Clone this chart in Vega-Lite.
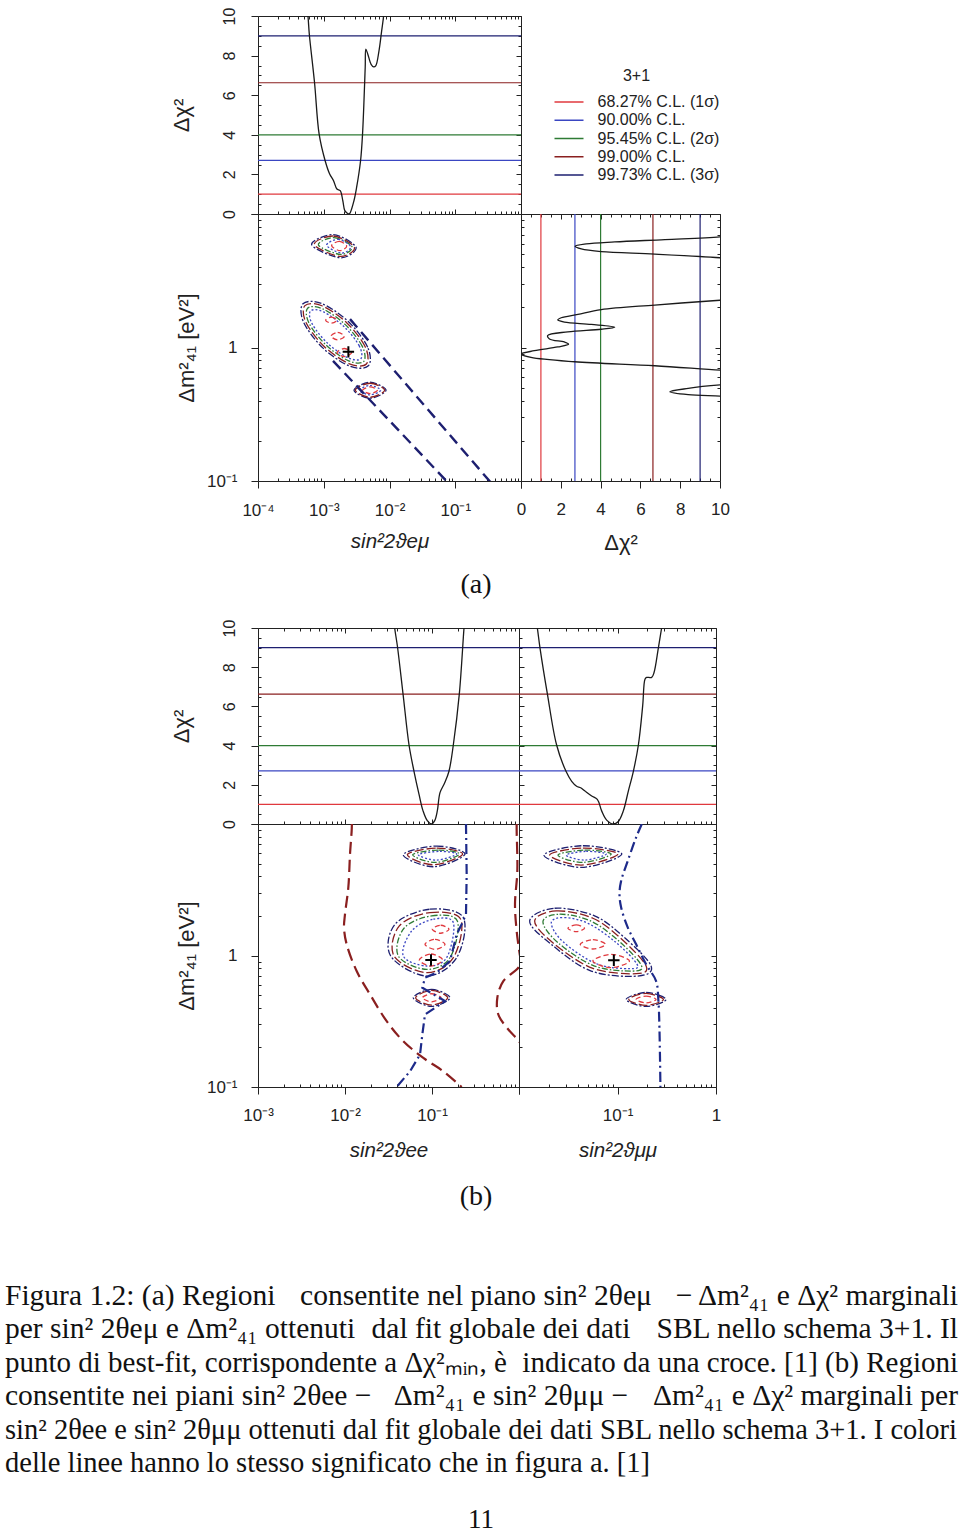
{
"$schema": "https://vega.github.io/schema/vega-lite/v6.json",
"background": "white",
"padding": {"left": 5, "top": 6, "right": 2, "bottom": 0},
"config": {
  "view": {"stroke": "#222", "strokeWidth": 1},
  "axis": {"grid": false, "domain": false, "labelFont": "Liberation Sans", "labelFontSize": 16, "labelColor": "#222", "titleFont": "Liberation Sans", "titleFontSize": 19, "titleFontWeight": "normal", "titleColor": "#222", "tickColor": "#222", "tickWidth": 1, "labelOverlap": false, "labelFlush": false},
  "legend": {"labelFont": "Liberation Sans", "titleFont": "Liberation Sans"},
  "text": {"font": "Liberation Serif", "color": "#111"}
},
"datasets": {
  "cl": [{"cl":"68.27","chi":1.0},{"cl":"90.00","chi":2.71},{"cl":"95.45","chi":4.0},{"cl":"99.00","chi":6.63},{"cl":"99.73","chi":9.0}],
  "chiA": [{"s":0.000525,"chi":11},{"s":0.000575,"chi":10},{"s":0.000603,"chi":9.08},{"s":0.000724,"chi":6.64},{"s":0.000851,"chi":4.03},{"s":0.00105,"chi":2.69},{"s":0.00123,"chi":2.02},{"s":0.00141,"chi":1.68},{"s":0.001585,"chi":1.26},{"s":0.00178,"chi":1.18},{"s":0.00195,"chi":0.67},{"s":0.00209,"chi":0.17},{"s":0.00229,"chi":0.04},{"s":0.0024,"chi":0},{"s":0.00251,"chi":0.05},{"s":0.00288,"chi":0.67},{"s":0.00316,"chi":1.34},{"s":0.00363,"chi":2.69},{"s":0.00389,"chi":4.03},{"s":0.00427,"chi":7.39},{"s":0.00437,"chi":8.32},{"s":0.00468,"chi":8.07},{"s":0.00525,"chi":7.56},{"s":0.00575,"chi":7.43},{"s":0.00617,"chi":7.48},{"s":0.00692,"chi":8.24},{"s":0.00759,"chi":9.24},{"s":0.00813,"chi":10},{"s":0.00851,"chi":11}],
  "chiEE": [{"s":0.036,"chi":10.76},{"s":0.03724,"chi":10},{"s":0.04,"chi":9.08},{"s":0.04645,"chi":6.64},{"s":0.05445,"chi":4.03},{"s":0.06209,"chi":2.69},{"s":0.07096,"chi":1.51},{"s":0.07889,"chi":0.67},{"s":0.08831,"chi":0.17},{"s":0.09908,"chi":0},{"s":0.1074,"chi":0.17},{"s":0.1151,"chi":0.67},{"s":0.1236,"chi":1.6},{"s":0.14,"chi":2.1},{"s":0.1567,"chi":2.69},{"s":0.1758,"chi":4.03},{"s":0.2061,"chi":6.64},{"s":0.2333,"chi":10},{"s":0.2415,"chi":10.76}],
  "chiMM": [{"s":0.01452,"chi":10.76},{"s":0.01535,"chi":10},{"s":0.01633,"chi":8.99},{"s":0.01941,"chi":6.64},{"s":0.0241,"chi":4.03},{"s":0.03,"chi":2.69},{"s":0.03428,"chi":2.18},{"s":0.03846,"chi":1.93},{"s":0.04227,"chi":1.85},{"s":0.04677,"chi":1.68},{"s":0.0547,"chi":1.43},{"s":0.06237,"chi":1.26},{"s":0.06902,"chi":0.67},{"s":0.07762,"chi":0.2},{"s":0.09078,"chi":0},{"s":0.1019,"chi":0.13},{"s":0.1146,"chi":0.67},{"s":0.1288,"chi":1.68},{"s":0.1449,"chi":2.69},{"s":0.1629,"chi":4.03},{"s":0.1803,"chi":6.05},{"s":0.1901,"chi":7.39},{"s":0.1977,"chi":7.48},{"s":0.2223,"chi":7.48},{"s":0.235,"chi":7.73},{"s":0.26,"chi":8.99},{"s":0.2805,"chi":10},{"s":0.2965,"chi":10.76}],
  "margA": [{"chi":11.4,"m":7.14},{"chi":10,"m":6.74},{"chi":7.23,"m":6.43},{"chi":4.71,"m":6.18},{"chi":3.28,"m":5.97},{"chi":2.72,"m":5.73},{"chi":3.03,"m":5.47},{"chi":4.03,"m":5.22},{"chi":6.72,"m":5.01},{"chi":10,"m":4.7},{"chi":11.4,"m":4.49},{"chi":11.4,"m":2.34},{"chi":10,"m":2.26},{"chi":6.72,"m":2.08},{"chi":4.03,"m":1.92},{"chi":2.86,"m":1.77},{"chi":2.02,"m":1.67},{"chi":1.85,"m":1.61},{"chi":2.18,"m":1.55},{"chi":3.53,"m":1.49},{"chi":4.71,"m":1.42},{"chi":4.03,"m":1.37},{"chi":2.35,"m":1.31},{"chi":1.34,"m":1.23},{"chi":1.43,"m":1.16},{"chi":2.18,"m":1.1},{"chi":2.39,"m":1.06},{"chi":1.85,"m":1.01},{"chi":0.67,"m":0.946},{"chi":0,"m":0.893},{"chi":0.5,"m":0.843},{"chi":2.69,"m":0.782},{"chi":6.72,"m":0.73},{"chi":10,"m":0.676},{"chi":11.4,"m":0.661},{"chi":11.4,"m":0.538},{"chi":10,"m":0.524},{"chi":8.4,"m":0.494},{"chi":7.48,"m":0.466},{"chi":8.4,"m":0.443},{"chi":10,"m":0.433},{"chi":11.4,"m":0.422}],
  "contA": [
    {"c":"U5","cl":"99.73","i":0,"s":0.000655,"m":5.89},{"c":"U5","cl":"99.73","i":1,"s":0.0014,"m":7.0},{"c":"U5","cl":"99.73","i":2,"s":0.0031,"m":5.62},{"c":"U5","cl":"99.73","i":3,"s":0.00177,"m":4.7},
    {"c":"U4","cl":"99.00","i":0,"s":0.000719,"m":5.89},{"c":"U4","cl":"99.00","i":1,"s":0.0014,"m":6.84},{"c":"U4","cl":"99.00","i":2,"s":0.00292,"m":5.62},{"c":"U4","cl":"99.00","i":3,"s":0.00177,"m":4.81},
    {"c":"U3","cl":"95.45","i":0,"s":0.000828,"m":5.85},{"c":"U3","cl":"95.45","i":1,"s":0.00143,"m":6.65},{"c":"U3","cl":"95.45","i":2,"s":0.00269,"m":5.69},{"c":"U3","cl":"95.45","i":3,"s":0.00181,"m":4.98},
    {"c":"U2","cl":"90.00","i":0,"s":0.001107,"m":5.82},{"c":"U2","cl":"90.00","i":1,"s":0.001667,"m":6.46},{"c":"U2","cl":"90.00","i":2,"s":0.00256,"m":5.69},{"c":"U2","cl":"90.00","i":3,"s":0.001875,"m":5.1},
    {"c":"U1","cl":"68.27","i":0,"s":0.001318,"m":5.79},{"c":"U1","cl":"68.27","i":1,"s":0.001726,"m":6.24},{"c":"U1","cl":"68.27","i":2,"s":0.002234,"m":5.75},{"c":"U1","cl":"68.27","i":3,"s":0.00177,"m":5.31},
    {"c":"M5","cl":"99.73","i":0,"s":0.004764,"m":0.7291},{"c":"M5","cl":"99.73","i":1,"s":0.00466,"m":1.003},{"c":"M5","cl":"99.73","i":2,"s":0.00236,"m":1.566},{"c":"M5","cl":"99.73","i":3,"s":0.000924,"m":2.137},{"c":"M5","cl":"99.73","i":4,"s":0.0004835,"m":2.125},{"c":"M5","cl":"99.73","i":5,"s":0.0004943,"m":1.545},{"c":"M5","cl":"99.73","i":6,"s":0.0009763,"m":0.9892},{"c":"M5","cl":"99.73","i":7,"s":0.002493,"m":0.7249},
    {"c":"M4","cl":"99.00","i":0,"s":0.004453,"m":0.7525},{"c":"M4","cl":"99.00","i":1,"s":0.004289,"m":1.008},{"c":"M4","cl":"99.00","i":2,"s":0.00225,"m":1.528},{"c":"M4","cl":"99.00","i":3,"s":0.0009363,"m":2.054},{"c":"M4","cl":"99.00","i":4,"s":0.0005173,"m":2.059},{"c":"M4","cl":"99.00","i":5,"s":0.000537,"m":1.537},{"c":"M4","cl":"99.00","i":6,"s":0.001024,"m":1.014},{"c":"M4","cl":"99.00","i":7,"s":0.002461,"m":0.7542},
    {"c":"M3","cl":"95.45","i":0,"s":0.004055,"m":0.7861},{"c":"M3","cl":"95.45","i":1,"s":0.003857,"m":1.019},{"c":"M3","cl":"95.45","i":2,"s":0.002127,"m":1.483},{"c":"M3","cl":"95.45","i":3,"s":0.0009616,"m":1.95},{"c":"M3","cl":"95.45","i":4,"s":0.0005681,"m":1.97},{"c":"M3","cl":"95.45","i":5,"s":0.0005973,"m":1.521},{"c":"M3","cl":"95.45","i":6,"s":0.001083,"m":1.044},{"c":"M3","cl":"95.45","i":7,"s":0.002396,"m":0.7943},
    {"c":"M2","cl":"90.00","i":0,"s":0.003664,"m":0.824},{"c":"M2","cl":"90.00","i":1,"s":0.003453,"m":1.032},{"c":"M2","cl":"90.00","i":2,"s":0.002011,"m":1.44},{"c":"M2","cl":"90.00","i":3,"s":0.0009924,"m":1.847},{"c":"M2","cl":"90.00","i":4,"s":0.0006289,"m":1.879},{"c":"M2","cl":"90.00","i":5,"s":0.0006672,"m":1.502},{"c":"M2","cl":"90.00","i":6,"s":0.001146,"m":1.075},{"c":"M2","cl":"90.00","i":7,"s":0.002322,"m":0.8385},
    {"c":"E1","cl":"68.27","i":0,"s":0.001069,"m":1.603},{"c":"E1","cl":"68.27","i":1,"s":0.001304,"m":1.689},{"c":"E1","cl":"68.27","i":2,"s":0.001591,"m":1.603},{"c":"E1","cl":"68.27","i":3,"s":0.001304,"m":1.522},
    {"c":"E2","cl":"68.27","i":0,"s":0.001288,"m":1.216},{"c":"E2","cl":"68.27","i":1,"s":0.001629,"m":1.296},{"c":"E2","cl":"68.27","i":2,"s":0.002056,"m":1.216},{"c":"E2","cl":"68.27","i":3,"s":0.001629,"m":1.142},
    {"c":"E3","cl":"68.27","i":0,"s":0.001591,"m":0.917},{"c":"E3","cl":"68.27","i":1,"s":0.002056,"m":0.983},{"c":"E3","cl":"68.27","i":2,"s":0.00266,"m":0.917},{"c":"E3","cl":"68.27","i":3,"s":0.002056,"m":0.856},
    {"c":"L5","cl":"99.73","i":0,"s":0.002884,"m":0.4786},{"c":"L5","cl":"99.73","i":1,"s":0.00505,"m":0.5495},{"c":"L5","cl":"99.73","i":2,"s":0.00885,"m":0.4786},{"c":"L5","cl":"99.73","i":3,"s":0.00505,"m":0.417},
    {"c":"L4","cl":"99.00","i":0,"s":0.003022,"m":0.4786},{"c":"L4","cl":"99.00","i":1,"s":0.00505,"m":0.54},{"c":"L4","cl":"99.00","i":2,"s":0.00844,"m":0.4786},{"c":"L4","cl":"99.00","i":3,"s":0.00505,"m":0.424},
    {"c":"L2","cl":"90.00","i":0,"s":0.003475,"m":0.4786},{"c":"L2","cl":"90.00","i":1,"s":0.00505,"m":0.519},{"c":"L2","cl":"90.00","i":2,"s":0.00734,"m":0.4786},{"c":"L2","cl":"90.00","i":3,"s":0.00505,"m":0.4416},
    {"c":"L1","cl":"68.27","i":0,"s":0.00391,"m":0.4786},{"c":"L1","cl":"68.27","i":1,"s":0.00505,"m":0.507},{"c":"L1","cl":"68.27","i":2,"s":0.00653,"m":0.4786},{"c":"L1","cl":"68.27","i":3,"s":0.00505,"m":0.452}
  ],
  "bA": [{"c":"a","i":0,"s":0.001383,"m":0.794},{"c":"a","i":1,"s":0.0785,"m":0.0966},{"c":"b","i":0,"s":0.00251,"m":1.631},{"c":"b","i":1,"s":0.3377,"m":0.0989}],
  "contEE": [
    {"c":"U5","cl":"99.73","i":0,"s":0.0468,"m":5.837},{"c":"U5","cl":"99.73","i":1,"s":0.1131,"m":6.796},{"c":"U5","cl":"99.73","i":2,"s":0.2395,"m":5.906},{"c":"U5","cl":"99.73","i":3,"s":0.1036,"m":4.729},
    {"c":"U4","cl":"99.00","i":0,"s":0.05206,"m":5.837},{"c":"U4","cl":"99.00","i":1,"s":0.1131,"m":6.561},{"c":"U4","cl":"99.00","i":2,"s":0.2252,"m":5.906},{"c":"U4","cl":"99.00","i":3,"s":0.1036,"m":4.898},
    {"c":"U3","cl":"95.45","i":0,"s":0.05994,"m":5.837},{"c":"U3","cl":"95.45","i":1,"s":0.1183,"m":6.336},{"c":"U3","cl":"95.45","i":2,"s":0.2061,"m":5.906},{"c":"U3","cl":"95.45","i":3,"s":0.1083,"m":5.103},
    {"c":"U2","cl":"90.00","i":0,"s":0.06966,"m":5.837},{"c":"U2","cl":"90.00","i":1,"s":0.1236,"m":6.189},{"c":"U2","cl":"90.00","i":2,"s":0.192,"m":5.906},{"c":"U2","cl":"90.00","i":3,"s":0.1131,"m":5.315},
    {"c":"M5","cl":"99.73","i":0,"s":0.03755,"m":1.728},{"c":"M5","cl":"99.73","i":1,"s":0.09484,"m":2.249},{"c":"M5","cl":"99.73","i":2,"s":0.2292,"m":1.943},{"c":"M5","cl":"99.73","i":3,"s":0.192,"m":0.9627},{"c":"M5","cl":"99.73","i":4,"s":0.08684,"m":0.6978},{"c":"M5","cl":"99.73","i":5,"s":0.0335,"m":0.9913},
    {"c":"M4","cl":"99.00","i":0,"s":0.0421,"m":1.679},{"c":"M4","cl":"99.00","i":1,"s":0.09484,"m":2.121},{"c":"M4","cl":"99.00","i":2,"s":0.2135,"m":1.887},{"c":"M4","cl":"99.00","i":3,"s":0.1759,"m":0.9627},{"c":"M4","cl":"99.00","i":4,"s":0.08684,"m":0.7398},{"c":"M4","cl":"99.00","i":5,"s":0.03657,"m":0.9913},
    {"c":"M3","cl":"95.45","i":0,"s":0.04766,"m":1.611},{"c":"M3","cl":"95.45","i":1,"s":0.09913,"m":2.001},{"c":"M3","cl":"95.45","i":2,"s":0.1955,"m":1.832},{"c":"M3","cl":"95.45","i":3,"s":0.161,"m":0.9627},{"c":"M3","cl":"95.45","i":4,"s":0.08684,"m":0.7845},{"c":"M3","cl":"95.45","i":5,"s":0.041,"m":0.9913},
    {"c":"M2","cl":"90.00","i":0,"s":0.05837,"m":1.537},{"c":"M2","cl":"90.00","i":1,"s":0.1036,"m":1.887},{"c":"M2","cl":"90.00","i":2,"s":0.1759,"m":1.779},{"c":"M2","cl":"90.00","i":3,"s":0.1474,"m":0.9627},{"c":"M2","cl":"90.00","i":4,"s":0.08684,"m":0.8317},{"c":"M2","cl":"90.00","i":5,"s":0.0468,"m":0.9913},
    {"c":"E1","cl":"68.27","i":0,"s":0.1009,"m":1.583},{"c":"E1","cl":"68.27","i":1,"s":0.1258,"m":1.698},{"c":"E1","cl":"68.27","i":2,"s":0.1568,"m":1.583},{"c":"E1","cl":"68.27","i":3,"s":0.1258,"m":1.476},
    {"c":"E2","cl":"68.27","i":0,"s":0.08307,"m":1.216},{"c":"E2","cl":"68.27","i":1,"s":0.1083,"m":1.328},{"c":"E2","cl":"68.27","i":2,"s":0.1411,"m":1.216},{"c":"E2","cl":"68.27","i":3,"s":0.1083,"m":1.114},
    {"c":"E3","cl":"68.27","i":0,"s":0.07153,"m":0.924},{"c":"E3","cl":"68.27","i":1,"s":0.09739,"m":1.027},{"c":"E3","cl":"68.27","i":2,"s":0.1327,"m":0.924},{"c":"E3","cl":"68.27","i":3,"s":0.09739,"m":0.8317},
    {"c":"L5","cl":"99.73","i":0,"s":0.061,"m":0.477},{"c":"L5","cl":"99.73","i":1,"s":0.09913,"m":0.5522},{"c":"L5","cl":"99.73","i":2,"s":0.161,"m":0.477},{"c":"L5","cl":"99.73","i":3,"s":0.09913,"m":0.4098},
    {"c":"L4","cl":"99.00","i":0,"s":0.0649,"m":0.477},{"c":"L4","cl":"99.00","i":1,"s":0.09913,"m":0.5427},{"c":"L4","cl":"99.00","i":2,"s":0.1514,"m":0.477},{"c":"L4","cl":"99.00","i":3,"s":0.09913,"m":0.4194},
    {"c":"L1","cl":"68.27","i":0,"s":0.07742,"m":0.477},{"c":"L1","cl":"68.27","i":1,"s":0.09913,"m":0.5117},{"c":"L1","cl":"68.27","i":2,"s":0.1269,"m":0.477},{"c":"L1","cl":"68.27","i":3,"s":0.09913,"m":0.4446}
  ],
  "bEE": [
    {"c":"n","i":0,"s":0.2459,"m":10},{"c":"n","i":1,"s":0.2503,"m":4.156},{"c":"n","i":2,"s":0.2459,"m":2.06},{"c":"n","i":3,"s":0.2193,"m":1.728},{"c":"n","i":4,"s":0.192,"m":1.45},{"c":"n","i":5,"s":0.1759,"m":1.147},{"c":"n","i":6,"s":0.161,"m":0.908},{"c":"n","i":7,"s":0.1131,"m":0.7398},{"c":"n","i":8,"s":0.08307,"m":0.6776},{"c":"n","i":9,"s":0.07742,"m":0.5687},{"c":"n","i":10,"s":0.1411,"m":0.4498},{"c":"n","i":11,"s":0.08307,"m":0.356},{"c":"n","i":12,"s":0.07742,"m":0.2506},{"c":"n","i":13,"s":0.07278,"m":0.1764},{"c":"n","i":14,"s":0.05585,"m":0.1316},{"c":"n","i":15,"s":0.03925,"m":0.1},
    {"c":"r1","i":0,"s":0.012,"m":10},{"c":"r1","i":1,"s":0.01193,"m":8.896},{"c":"r1","i":2,"s":0.01142,"m":5.906},{"c":"r1","i":3,"s":0.01092,"m":3.29},{"c":"r1","i":4,"s":0.01,"m":2.06},{"c":"r1","i":5,"s":0.00974,"m":1.63},{"c":"r1","i":6,"s":0.01045,"m":1.216},{"c":"r1","i":7,"s":0.01361,"m":0.7618},{"c":"r1","i":8,"s":0.01939,"m":0.5057},{"c":"r1","i":9,"s":0.03013,"m":0.3167},{"c":"r1","i":10,"s":0.0468,"m":0.2229},{"c":"r1","i":11,"s":0.07949,"m":0.1664},{"c":"r1","i":12,"s":0.135,"m":0.1316},{"c":"r1","i":13,"s":0.2193,"m":0.1},
    {"c":"r2","i":0,"s":0.9401,"m":10},{"c":"r2","i":1,"s":0.9401,"m":8.896},{"c":"r2","i":2,"s":0.957,"m":4.408},{"c":"r2","i":3,"s":0.8995,"m":2.455},{"c":"r2","i":4,"s":0.9401,"m":1.537},{"c":"r2","i":5,"s":1.02,"m":1.021},{"c":"r2","i":6,"s":1.05,"m":0.9},{"c":"r2","i":7,"s":0.9824,"m":0.8078},{"c":"r2","i":8,"s":0.6604,"m":0.6391},{"c":"r2","i":9,"s":0.5636,"m":0.477},{"c":"r2","i":10,"s":0.5786,"m":0.356},{"c":"r2","i":11,"s":0.7539,"m":0.2736},{"c":"r2","i":12,"s":1.0,"m":0.2229},{"c":"r2","i":13,"s":1.05,"m":0.21}
  ],
  "contMM": [
    {"c":"U5","cl":"99.73","i":0,"s":0.01793,"m":5.803},{"c":"U5","cl":"99.73","i":1,"s":0.04453,"m":6.835},{"c":"U5","cl":"99.73","i":2,"s":0.1106,"m":5.906},{"c":"U5","cl":"99.73","i":3,"s":0.04283,"m":4.674},
    {"c":"U4","cl":"99.00","i":0,"s":0.02046,"m":5.803},{"c":"U4","cl":"99.00","i":1,"s":0.04453,"m":6.561},{"c":"U4","cl":"99.00","i":2,"s":0.1008,"m":5.906},{"c":"U4","cl":"99.00","i":3,"s":0.04283,"m":4.869},
    {"c":"U3","cl":"95.45","i":0,"s":0.02485,"m":5.803},{"c":"U3","cl":"95.45","i":1,"s":0.0463,"m":6.336},{"c":"U3","cl":"95.45","i":2,"s":0.08626,"m":5.906},{"c":"U3","cl":"95.45","i":3,"s":0.04453,"m":5.103},
    {"c":"U2","cl":"90.00","i":0,"s":0.03018,"m":5.803},{"c":"U2","cl":"90.00","i":1,"s":0.04814,"m":6.189},{"c":"U2","cl":"90.00","i":2,"s":0.07674,"m":5.906},{"c":"U2","cl":"90.00","i":3,"s":0.0463,"m":5.315},
    {"c":"M5","cl":"99.73","i":0,"s":0.01283,"m":1.832},{"c":"M5","cl":"99.73","i":1,"s":0.02298,"m":2.288},{"c":"M5","cl":"99.73","i":2,"s":0.05846,"m":2.001},{"c":"M5","cl":"99.73","i":3,"s":0.1177,"m":1.368},{"c":"M5","cl":"99.73","i":4,"s":0.2194,"m":0.8317},{"c":"M5","cl":"99.73","i":5,"s":0.1608,"m":0.6978},{"c":"M5","cl":"99.73","i":6,"s":0.05408,"m":0.7618},{"c":"M5","cl":"99.73","i":7,"s":0.02127,"m":1.216},
    {"c":"M4","cl":"99.00","i":0,"s":0.01442,"m":1.832},{"c":"M4","cl":"99.00","i":1,"s":0.02389,"m":2.184},{"c":"M4","cl":"99.00","i":2,"s":0.05623,"m":1.92},{"c":"M4","cl":"99.00","i":3,"s":0.1106,"m":1.328},{"c":"M4","cl":"99.00","i":4,"s":0.1952,"m":0.8317},{"c":"M4","cl":"99.00","i":5,"s":0.1546,"m":0.727},{"c":"M4","cl":"99.00","i":6,"s":0.05623,"m":0.798},{"c":"M4","cl":"99.00","i":7,"s":0.02263,"m":1.231},
    {"c":"M3","cl":"95.45","i":0,"s":0.01751,"m":1.811},{"c":"M3","cl":"95.45","i":1,"s":0.02584,"m":2.06},{"c":"M3","cl":"95.45","i":2,"s":0.05325,"m":1.832},{"c":"M3","cl":"95.45","i":3,"s":0.1031,"m":1.29},{"c":"M3","cl":"95.45","i":4,"s":0.1738,"m":0.8464},{"c":"M3","cl":"95.45","i":5,"s":0.143,"m":0.7618},{"c":"M3","cl":"95.45","i":6,"s":0.05846,"m":0.8317},{"c":"M3","cl":"95.45","i":7,"s":0.02485,"m":1.252},
    {"c":"M2","cl":"90.00","i":0,"s":0.02127,"m":1.779},{"c":"M2","cl":"90.00","i":1,"s":0.02902,"m":1.943},{"c":"M2","cl":"90.00","i":2,"s":0.05083,"m":1.748},{"c":"M2","cl":"90.00","i":3,"s":0.09694,"m":1.252},{"c":"M2","cl":"90.00","i":4,"s":0.1583,"m":0.8564},{"c":"M2","cl":"90.00","i":5,"s":0.1323,"m":0.7937},{"c":"M2","cl":"90.00","i":6,"s":0.06078,"m":0.8664},{"c":"M2","cl":"90.00","i":7,"s":0.02791,"m":1.275},
    {"c":"E1","cl":"68.27","i":0,"s":0.03137,"m":1.611},{"c":"E1","cl":"68.27","i":1,"s":0.03812,"m":1.708},{"c":"E1","cl":"68.27","i":2,"s":0.0463,"m":1.611},{"c":"E1","cl":"68.27","i":3,"s":0.03812,"m":1.519},
    {"c":"E2","cl":"68.27","i":0,"s":0.04184,"m":1.216},{"c":"E2","cl":"68.27","i":1,"s":0.05623,"m":1.32},{"c":"E2","cl":"68.27","i":2,"s":0.07556,"m":1.216},{"c":"E2","cl":"68.27","i":3,"s":0.05623,"m":1.121},
    {"c":"E3","cl":"68.27","i":0,"s":0.05623,"m":0.908},{"c":"E3","cl":"68.27","i":1,"s":0.08626,"m":1.021},{"c":"E3","cl":"68.27","i":2,"s":0.1323,"m":0.908},{"c":"E3","cl":"68.27","i":3,"s":0.08626,"m":0.8078},
    {"c":"L5","cl":"99.73","i":0,"s":0.1224,"m":0.4632},{"c":"L5","cl":"99.73","i":1,"s":0.1952,"m":0.5238},{"c":"L5","cl":"99.73","i":2,"s":0.3112,"m":0.4632},{"c":"L5","cl":"99.73","i":3,"s":0.1952,"m":0.4098},
    {"c":"L4","cl":"99.00","i":0,"s":0.1303,"m":0.4632},{"c":"L4","cl":"99.00","i":1,"s":0.1952,"m":0.5148},{"c":"L4","cl":"99.00","i":2,"s":0.2925,"m":0.4632},{"c":"L4","cl":"99.00","i":3,"s":0.1952,"m":0.417},
    {"c":"L1","cl":"68.27","i":0,"s":0.1546,"m":0.4632},{"c":"L1","cl":"68.27","i":1,"s":0.1952,"m":0.4911},{"c":"L1","cl":"68.27","i":2,"s":0.2465,"m":0.4632},{"c":"L1","cl":"68.27","i":3,"s":0.1952,"m":0.4369}
  ],
  "bMM": [{"c":"n","i":0,"s":0.1765,"m":10},{"c":"n","i":1,"s":0.1546,"m":7.911},{"c":"n","i":2,"s":0.1273,"m":5.254},{"c":"n","i":3,"s":0.1089,"m":3.698},{"c":"n","i":4,"s":0.1048,"m":2.927},{"c":"n","i":5,"s":0.1089,"m":2.315},{"c":"n","i":6,"s":0.1273,"m":1.63},{"c":"n","i":7,"s":0.1546,"m":1.216},{"c":"n","i":8,"s":0.1952,"m":0.8564},{"c":"n","i":9,"s":0.2465,"m":0.6391},{"c":"n","i":10,"s":0.2603,"m":0.4498},{"c":"n","i":11,"s":0.2665,"m":0.2817},{"c":"n","i":12,"s":0.2727,"m":0.1}],
  "bfA": [{"s":0.00237,"m":0.928}],
  "bfEE": [{"s":0.0974,"m":0.924}],
  "bfMM": [{"s":0.0918,"m":0.919}],
  "caption": [
    {"n":1,"p":"l","t":"Figura 1.2: (a) Regioni"},
    {"n":1,"p":"m","t":"consentite nel piano sin² 2θeμ"},
    {"n":1,"p":"r","t":"− Δm²₄₁ e Δχ² marginali"},
    {"n":2,"p":"l","t":"per sin² 2θeμ e Δm²₄₁ ottenuti"},
    {"n":2,"p":"m","t":"dal fit globale dei dati"},
    {"n":2,"p":"r","t":"SBL nello schema 3+1. Il"},
    {"n":3,"p":"l","t":"punto di best-fit, corrispondente a Δχ²ₘᵢₙ, è"},
    {"n":3,"p":"r","t":"indicato da una croce. [1] (b) Regioni"},
    {"n":4,"p":"l","t":"consentite nei piani sin² 2θee −"},
    {"n":4,"p":"m","t":"Δm²₄₁ e sin² 2θμμ −"},
    {"n":4,"p":"r","t":"Δm²₄₁ e Δχ² marginali per"},
    {"n":5,"p":"l","t":"sin² 2θee e sin² 2θμμ ottenuti dal fit globale dei dati SBL nello schema 3+1. I colori"},
    {"n":6,"p":"l","t":"delle linee hanno lo stesso significato che in figura a. [1]"}
  ]
},
"spacing": 0,
"resolve": {"scale": {"color": "independent", "strokeDash": "independent"}, "legend": {"color": "independent"}},
"vconcat": [
  {
    "columns": 2, "spacing": 0, "bounds": "flush",
    "resolve": {"scale": {"color": "independent", "strokeDash": "independent"}, "legend": {"color": "independent"}},
    "concat": [
      {
        "width": 263, "height": 198,
        "resolve": {"axis": {"x": "independent", "y": "independent"}},
        "layer": [
          {"data": {"name": "cl"}, "mark": {"type": "rule", "strokeWidth": 1.2},
           "encoding": {
             "y": {"field": "chi", "type": "quantitative", "scale": {"domain": [0, 10]},
                   "axis": {"values": [0,0.5,1,1.5,2,2.5,3,3.5,4,4.5,5,5.5,6,6.5,7,7.5,8,8.5,9,9.5,10], "labelExpr": "datum.value % 2 == 0 ? format(datum.value, 'd') : ''", "labelFontSize": {"condition": {"test": "datum.value % 2 == 0", "value": 16}, "value": 0}, "labelOverlap": false, "labelAngle": 270, "labelAlign": "center", "labelBaseline": "bottom", "labelPadding": 14, "tickSize": {"condition": {"test": "datum.value % 2 == 0", "value": 7}, "value": -3}, "title": "Δχ²", "titleFontSize": 22, "titlePadding": 28}},
             "color": {"field": "cl", "type": "nominal", "scale": {"domain": ["68.27","90.00","95.45","99.00","99.73"], "range": ["#e0393e","#3a46c2","#2e7b34","#8a1f1f","#1d1f70"]}, "legend": null}}},
          {"data": {"name": "chiA"}, "mark": {"type": "line", "color": "#1a1a1a", "strokeWidth": 1.3, "clip": true, "interpolate": "catmull-rom"},
           "encoding": {
             "x": {"field": "s", "type": "quantitative", "scale": {"type": "log", "domain": [0.0001, 1]},
                   "axis": {"values": [0.0001,0.0002,0.0003,0.0004,0.0005,0.0006,0.0007,0.0008,0.0009,0.001,0.002,0.003,0.004,0.005,0.006,0.007,0.008,0.009,0.01,0.02,0.03,0.04,0.05,0.06,0.07,0.08,0.09,0.1,0.2,0.3,0.4,0.5,0.6,0.7,0.8,0.9,1], "labels": false, "title": null, "tickSize": {"condition": {"test": "abs(log(datum.value)/LN10 - round(log(datum.value)/LN10)) < 0.01", "value": -5}, "value": -3}}},
             "y": {"field": "chi", "type": "quantitative", "axis": null}}},
          {"data": {"name": "chiA"}, "transform": [{"filter": "datum.chi <= 10"}], "mark": {"type": "point", "opacity": 0},
           "encoding": {
             "x": {"field": "s", "type": "quantitative", "axis": {"orient": "top", "values": [0.0001,0.0002,0.0003,0.0004,0.0005,0.0006,0.0007,0.0008,0.0009,0.001,0.002,0.003,0.004,0.005,0.006,0.007,0.008,0.009,0.01,0.02,0.03,0.04,0.05,0.06,0.07,0.08,0.09,0.1,0.2,0.3,0.4,0.5,0.6,0.7,0.8,0.9,1], "labels": false, "title": null, "tickSize": {"condition": {"test": "abs(log(datum.value)/LN10 - round(log(datum.value)/LN10)) < 0.01", "value": -5}, "value": -3}}},
             "y": {"field": "chi", "type": "quantitative", "axis": {"orient": "right", "values": [0,0.5,1,1.5,2,2.5,3,3.5,4,4.5,5,5.5,6,6.5,7,7.5,8,8.5,9,9.5,10], "labels": false, "title": null, "tickSize": {"condition": {"test": "datum.value % 2 == 0", "value": -5}, "value": -3}}}}}
        ]
      },
      {"width": 199, "height": 198, "view": {"stroke": null}, "data": {"name": "cl"},
       "mark": {"type": "rule", "opacity": 0},
       "encoding": {
         "y": {"field": "chi", "type": "quantitative", "scale": {"domain": [0, 10]}, "axis": null},
         "color": {"field": "cl", "type": "nominal", "scale": {"domain": ["68.27","90.00","95.45","99.00","99.73"], "range": ["#e0393e","#3a46c2","#2e7b34","#8a1f1f","#1d1f70"]},
                   "legend": {"title": "3+1", "orient": "none", "legendX": 32.5, "legendY": 52, "symbolType": "stroke", "symbolSize": 841, "symbolStrokeWidth": 1.5, "symbolOpacity": 1, "clipHeight": 16, "rowPadding": 2.25, "labelOffset": 13, "labelFontSize": 16, "labelColor": "#222", "titleFontSize": 16, "titleFontWeight": "normal", "titleColor": "#222", "titleAnchor": "middle", "titlePadding": 10, "padding": 0,
                              "labelExpr": "datum.label + '% C.L.' + (datum.label == '68.27' ? ' (1σ)' : datum.label == '95.45' ? ' (2σ)' : datum.label == '99.73' ? ' (3σ)' : '')"}}}},
      {
        "width": 263, "height": 267,
        "layer": [
          {"data": {"name": "contA"}, "mark": {"type": "line", "interpolate": "cardinal-closed", "strokeWidth": 1.3, "clip": true},
           "encoding": {
             "x": {"field": "s", "type": "quantitative", "scale": {"type": "log", "domain": [0.0001, 1]},
                   "axis": {"values": [0.0001,0.0002,0.0003,0.0004,0.0005,0.0006,0.0007,0.0008,0.0009,0.001,0.002,0.003,0.004,0.005,0.006,0.007,0.008,0.009,0.01,0.02,0.03,0.04,0.05,0.06,0.07,0.08,0.09,0.1,0.2,0.3,0.4,0.5,0.6,0.7,0.8,0.9,1], "labelExpr": "datum.value == 0.0001 ? '10⁻⁴' : datum.value == 0.001 ? '10⁻³' : datum.value == 0.01 ? '10⁻²' : datum.value == 0.1 ? '10⁻¹' : ''", "labelFontSize": {"condition": {"test": "abs(log(datum.value)/LN10 - round(log(datum.value)/LN10)) < 0.01", "value": 17}, "value": 0}, "labelOverlap": false, "labelPadding": 14, "tickSize": {"condition": {"test": "abs(log(datum.value)/LN10 - round(log(datum.value)/LN10)) < 0.01", "value": 7}, "value": -3}, "title": "sin²2ϑeμ", "titleFontStyle": "italic", "titleFontSize": 20.5, "titlePadding": 13}},
             "y": {"field": "m", "type": "quantitative", "scale": {"type": "log", "domain": [0.1, 10]},
                   "axis": {"values": [0.1,0.2,0.3,0.4,0.5,0.6,0.7,0.8,0.9,1,2,3,4,5,6,7,8,9,10], "labelExpr": "datum.value == 0.1 ? '10⁻¹' : datum.value == 1 ? '1' : ''", "labelFontSize": {"condition": {"test": "abs(log(datum.value)/LN10 - round(log(datum.value)/LN10)) < 0.01", "value": 17}, "value": 0}, "labelOverlap": false, "labelPadding": 14, "tickSize": {"condition": {"test": "abs(log(datum.value)/LN10 - round(log(datum.value)/LN10)) < 0.01", "value": 7}, "value": -3}, "title": "Δm²₄₁   [eV²]", "titleFontSize": 22, "titlePadding": 8}},
             "detail": {"field": "c"}, "order": {"field": "i"},
             "color": {"field": "cl", "type": "nominal", "scale": {"domain": ["68.27","90.00","95.45","99.00","99.73"], "range": ["#e0393e","#3a46c2","#2e7b34","#8a1f1f","#1d1f70"]}, "legend": null},
             "strokeDash": {"field": "cl", "type": "nominal", "scale": {"domain": ["68.27","90.00","95.45","99.00","99.73"], "range": [[5,3],[2,2],[6,2,1.5,2],[9,3],[7,2,2,2]]}, "legend": null}}},
          {"data": {"name": "bA"}, "mark": {"type": "line", "color": "#1d1f70", "strokeWidth": 2.4, "strokeDash": [11, 6], "clip": true},
           "encoding": {"x": {"field": "s", "type": "quantitative"}, "y": {"field": "m", "type": "quantitative"}, "detail": {"field": "c"}, "order": {"field": "i"}}},
          {"data": {"name": "bfA"}, "mark": {"type": "point", "shape": "M-1,0L1,0M0,-1L0,1", "size": 130, "filled": false, "stroke": "#000", "strokeWidth": 2, "opacity": 1},
           "encoding": {"x": {"field": "s", "type": "quantitative"}, "y": {"field": "m", "type": "quantitative"}}}
        ]
      },
      {
        "width": 199, "height": 267,
        "resolve": {"axis": {"x": "independent", "y": "independent"}},
        "layer": [
          {"data": {"name": "cl"}, "mark": {"type": "rule", "strokeWidth": 1.2},
           "encoding": {
             "x": {"field": "chi", "type": "quantitative", "scale": {"domain": [0, 10]},
                   "axis": {"values": [0,0.5,1,1.5,2,2.5,3,3.5,4,4.5,5,5.5,6,6.5,7,7.5,8,8.5,9,9.5,10], "labelExpr": "datum.value % 2 == 0 ? format(datum.value, 'd') : ''", "labelFontSize": {"condition": {"test": "datum.value % 2 == 0", "value": 17}, "value": 0}, "labelOverlap": false, "labelPadding": 13, "tickSize": {"condition": {"test": "datum.value % 2 == 0", "value": 7}, "value": -3}, "title": "Δχ²", "titleFontSize": 22, "titlePadding": 15}},
             "color": {"field": "cl", "type": "nominal", "scale": {"domain": ["68.27","90.00","95.45","99.00","99.73"], "range": ["#e0393e","#3a46c2","#2e7b34","#8a1f1f","#1d1f70"]}, "legend": null}}},
          {"data": {"name": "margA"}, "mark": {"type": "line", "color": "#1a1a1a", "strokeWidth": 1.3, "clip": true, "interpolate": "catmull-rom"},
           "encoding": {
             "x": {"field": "chi", "type": "quantitative", "axis": null},
             "y": {"field": "m", "type": "quantitative", "scale": {"type": "log", "domain": [0.1, 10]},
                   "axis": {"values": [0.1,0.2,0.3,0.4,0.5,0.6,0.7,0.8,0.9,1,2,3,4,5,6,7,8,9,10], "labels": false, "title": null, "tickSize": {"condition": {"test": "abs(log(datum.value)/LN10 - round(log(datum.value)/LN10)) < 0.01", "value": -5}, "value": -3}}},
             "order": {"field": "m", "sort": "descending"}}},
          {"data": {"name": "margA"}, "transform": [{"filter": "datum.chi <= 10"}], "mark": {"type": "point", "opacity": 0},
           "encoding": {
             "x": {"field": "chi", "type": "quantitative", "axis": {"orient": "top", "values": [0,0.5,1,1.5,2,2.5,3,3.5,4,4.5,5,5.5,6,6.5,7,7.5,8,8.5,9,9.5,10], "labels": false, "title": null, "tickSize": {"condition": {"test": "datum.value % 2 == 0", "value": -5}, "value": -3}}},
             "y": {"field": "m", "type": "quantitative", "axis": {"orient": "right", "values": [0.1,0.2,0.3,0.4,0.5,0.6,0.7,0.8,0.9,1,2,3,4,5,6,7,8,9,10], "labels": false, "title": null, "tickSize": {"condition": {"test": "abs(log(datum.value)/LN10 - round(log(datum.value)/LN10)) < 0.01", "value": -5}, "value": -3}}}}}
        ]
      }
    ]
  },
  {"width": 700, "height": 63.6, "data": {"values": [{"t": "(a)"}]}, "view": {"stroke": null},
   "mark": {"type": "text", "fontSize": 28, "align": "center", "baseline": "middle"},
   "encoding": {"text": {"field": "t"}, "x": {"datum": 0.4942, "scale": {"domain": [0, 1], "range": [-253, 700]}, "axis": null}, "y": {"datum": 0.505, "scale": {"domain": [0, 1]}, "axis": null}}},
  {
    "columns": 2, "spacing": 0, "bounds": "flush",
    "concat": [
      {
        "width": 261, "height": 196,
        "resolve": {"axis": {"x": "independent", "y": "independent"}},
        "layer": [
          {"data": {"name": "cl"}, "mark": {"type": "rule", "strokeWidth": 1.2},
           "encoding": {
             "y": {"field": "chi", "type": "quantitative", "scale": {"domain": [0, 10]},
                   "axis": {"values": [0,0.5,1,1.5,2,2.5,3,3.5,4,4.5,5,5.5,6,6.5,7,7.5,8,8.5,9,9.5,10], "labelExpr": "datum.value % 2 == 0 ? format(datum.value, 'd') : ''", "labelFontSize": {"condition": {"test": "datum.value % 2 == 0", "value": 16}, "value": 0}, "labelOverlap": false, "labelAngle": 270, "labelAlign": "center", "labelBaseline": "bottom", "labelPadding": 14, "tickSize": {"condition": {"test": "datum.value % 2 == 0", "value": 7}, "value": -3}, "title": "Δχ²", "titleFontSize": 22, "titlePadding": 28}},
             "color": {"field": "cl", "type": "nominal", "scale": {"domain": ["68.27","90.00","95.45","99.00","99.73"], "range": ["#e0393e","#3a46c2","#2e7b34","#8a1f1f","#1d1f70"]}, "legend": null}}},
          {"data": {"name": "chiEE"}, "mark": {"type": "line", "color": "#1a1a1a", "strokeWidth": 1.3, "clip": true, "interpolate": "catmull-rom"},
           "encoding": {
             "x": {"field": "s", "type": "quantitative", "scale": {"type": "log", "domain": [0.001, 1]},
                   "axis": {"values": [0.001,0.002,0.003,0.004,0.005,0.006,0.007,0.008,0.009,0.01,0.02,0.03,0.04,0.05,0.06,0.07,0.08,0.09,0.1,0.2,0.3,0.4,0.5,0.6,0.7,0.8,0.9,1], "labels": false, "title": null, "tickSize": {"condition": {"test": "abs(log(datum.value)/LN10 - round(log(datum.value)/LN10)) < 0.01", "value": -5}, "value": -3}}},
             "y": {"field": "chi", "type": "quantitative", "axis": null}}},
          {"data": {"name": "chiEE"}, "transform": [{"filter": "datum.chi <= 10"}], "mark": {"type": "point", "opacity": 0},
           "encoding": {
             "x": {"field": "s", "type": "quantitative", "axis": {"orient": "top", "values": [0.001,0.002,0.003,0.004,0.005,0.006,0.007,0.008,0.009,0.01,0.02,0.03,0.04,0.05,0.06,0.07,0.08,0.09,0.1,0.2,0.3,0.4,0.5,0.6,0.7,0.8,0.9,1], "labels": false, "title": null, "tickSize": {"condition": {"test": "abs(log(datum.value)/LN10 - round(log(datum.value)/LN10)) < 0.01", "value": -5}, "value": -3}}},
             "y": {"field": "chi", "type": "quantitative", "axis": null}}}
        ]
      },
      {
        "width": 197, "height": 196,
        "resolve": {"axis": {"x": "independent", "y": "independent"}},
        "layer": [
          {"data": {"name": "cl"}, "mark": {"type": "rule", "strokeWidth": 1.2},
           "encoding": {
             "y": {"field": "chi", "type": "quantitative", "scale": {"domain": [0, 10]},
                   "axis": {"values": [0,0.5,1,1.5,2,2.5,3,3.5,4,4.5,5,5.5,6,6.5,7,7.5,8,8.5,9,9.5,10], "labels": false, "title": null, "tickSize": {"condition": {"test": "datum.value % 2 == 0", "value": -5}, "value": -3}}},
             "color": {"field": "cl", "type": "nominal", "scale": {"domain": ["68.27","90.00","95.45","99.00","99.73"], "range": ["#e0393e","#3a46c2","#2e7b34","#8a1f1f","#1d1f70"]}, "legend": null}}},
          {"data": {"name": "chiMM"}, "mark": {"type": "line", "color": "#1a1a1a", "strokeWidth": 1.3, "clip": true, "interpolate": "catmull-rom"},
           "encoding": {
             "x": {"field": "s", "type": "quantitative", "scale": {"type": "log", "domain": [0.01, 1]},
                   "axis": {"values": [0.01,0.02,0.03,0.04,0.05,0.06,0.07,0.08,0.09,0.1,0.2,0.3,0.4,0.5,0.6,0.7,0.8,0.9,1], "labels": false, "title": null, "tickSize": {"condition": {"test": "abs(log(datum.value)/LN10 - round(log(datum.value)/LN10)) < 0.01", "value": -5}, "value": -3}}},
             "y": {"field": "chi", "type": "quantitative", "axis": null}}},
          {"data": {"name": "chiMM"}, "transform": [{"filter": "datum.chi <= 10"}], "mark": {"type": "point", "opacity": 0},
           "encoding": {
             "x": {"field": "s", "type": "quantitative", "axis": {"orient": "top", "values": [0.01,0.02,0.03,0.04,0.05,0.06,0.07,0.08,0.09,0.1,0.2,0.3,0.4,0.5,0.6,0.7,0.8,0.9,1], "labels": false, "title": null, "tickSize": {"condition": {"test": "abs(log(datum.value)/LN10 - round(log(datum.value)/LN10)) < 0.01", "value": -5}, "value": -3}}},
             "y": {"field": "chi", "type": "quantitative", "axis": {"orient": "right", "values": [0,0.5,1,1.5,2,2.5,3,3.5,4,4.5,5,5.5,6,6.5,7,7.5,8,8.5,9,9.5,10], "labels": false, "title": null, "tickSize": {"condition": {"test": "datum.value % 2 == 0", "value": -5}, "value": -3}}}}}
        ]
      },
      {
        "width": 261, "height": 263,
        "layer": [
          {"data": {"name": "contEE"}, "mark": {"type": "line", "interpolate": "cardinal-closed", "strokeWidth": 1.3, "clip": true},
           "encoding": {
             "x": {"field": "s", "type": "quantitative", "scale": {"type": "log", "domain": [0.001, 1]},
                   "axis": {"values": [0.001,0.002,0.003,0.004,0.005,0.006,0.007,0.008,0.009,0.01,0.02,0.03,0.04,0.05,0.06,0.07,0.08,0.09,0.1,0.2,0.3,0.4,0.5,0.6,0.7,0.8,0.9,1], "labelExpr": "datum.value == 0.001 ? '10⁻³' : datum.value == 0.01 ? '10⁻²' : datum.value == 0.1 ? '10⁻¹' : ''", "labelFontSize": {"condition": {"test": "abs(log(datum.value)/LN10 - round(log(datum.value)/LN10)) < 0.01", "value": 17}, "value": 0}, "labelOverlap": false, "labelPadding": 13, "tickSize": {"condition": {"test": "abs(log(datum.value)/LN10 - round(log(datum.value)/LN10)) < 0.01", "value": 7}, "value": -3}, "title": "sin²2ϑee", "titleFontStyle": "italic", "titleFontSize": 20.5, "titlePadding": 17}},
             "y": {"field": "m", "type": "quantitative", "scale": {"type": "log", "domain": [0.1, 10]},
                   "axis": {"values": [0.1,0.2,0.3,0.4,0.5,0.6,0.7,0.8,0.9,1,2,3,4,5,6,7,8,9,10], "labelExpr": "datum.value == 0.1 ? '10⁻¹' : datum.value == 1 ? '1' : ''", "labelFontSize": {"condition": {"test": "abs(log(datum.value)/LN10 - round(log(datum.value)/LN10)) < 0.01", "value": 17}, "value": 0}, "labelOverlap": false, "labelPadding": 14, "tickSize": {"condition": {"test": "abs(log(datum.value)/LN10 - round(log(datum.value)/LN10)) < 0.01", "value": 7}, "value": -3}, "title": "Δm²₄₁   [eV²]", "titleFontSize": 22, "titlePadding": 8}},
             "detail": {"field": "c"}, "order": {"field": "i"},
             "color": {"field": "cl", "type": "nominal", "scale": {"domain": ["68.27","90.00","95.45","99.00","99.73"], "range": ["#e0393e","#3a46c2","#2e7b34","#8a1f1f","#1d1f70"]}, "legend": null},
             "strokeDash": {"field": "cl", "type": "nominal", "scale": {"domain": ["68.27","90.00","95.45","99.00","99.73"], "range": [[5,3],[2,2],[6,2,1.5,2],[9,3],[7,2,2,2]]}, "legend": null}}},
          {"data": {"name": "bEE"}, "transform": [{"filter": "datum.c == 'n'"}], "mark": {"type": "line", "color": "#1d2a8a", "strokeWidth": 2.2, "strokeDash": [10, 4, 2, 4], "clip": true},
           "encoding": {"x": {"field": "s", "type": "quantitative"}, "y": {"field": "m", "type": "quantitative"}, "detail": {"field": "c"}, "order": {"field": "i"}}},
          {"data": {"name": "bEE"}, "transform": [{"filter": "datum.c != 'n'"}], "mark": {"type": "line", "color": "#8a1f1f", "strokeWidth": 2.2, "strokeDash": [12, 6], "clip": true, "interpolate": "catmull-rom"},
           "encoding": {"x": {"field": "s", "type": "quantitative"}, "y": {"field": "m", "type": "quantitative"}, "detail": {"field": "c"}, "order": {"field": "i"}}},
          {"data": {"name": "bfEE"}, "mark": {"type": "point", "shape": "M-1,0L1,0M0,-1L0,1", "size": 130, "filled": false, "stroke": "#000", "strokeWidth": 2, "opacity": 1},
           "encoding": {"x": {"field": "s", "type": "quantitative"}, "y": {"field": "m", "type": "quantitative"}}}
        ]
      },
      {
        "width": 197, "height": 263,
        "resolve": {"axis": {"x": "independent", "y": "independent"}},
        "layer": [
          {"data": {"name": "contMM"}, "mark": {"type": "line", "interpolate": "cardinal-closed", "strokeWidth": 1.3, "clip": true},
           "encoding": {
             "x": {"field": "s", "type": "quantitative", "scale": {"type": "log", "domain": [0.01, 1]},
                   "axis": {"values": [0.01,0.02,0.03,0.04,0.05,0.06,0.07,0.08,0.09,0.1,0.2,0.3,0.4,0.5,0.6,0.7,0.8,0.9,1], "labelExpr": "datum.value == 0.1 ? '10⁻¹' : datum.value == 1 ? '1' : ''", "labelFontSize": {"condition": {"test": "abs(log(datum.value)/LN10 - round(log(datum.value)/LN10)) < 0.01", "value": 17}, "value": 0}, "labelOverlap": false, "labelPadding": 13, "tickSize": {"condition": {"test": "abs(log(datum.value)/LN10 - round(log(datum.value)/LN10)) < 0.01", "value": 7}, "value": -3}, "title": "sin²2ϑμμ", "titleFontStyle": "italic", "titleFontSize": 20.5, "titlePadding": 17}},
             "y": {"field": "m", "type": "quantitative", "scale": {"type": "log", "domain": [0.1, 10]},
                   "axis": {"values": [0.1,0.2,0.3,0.4,0.5,0.6,0.7,0.8,0.9,1,2,3,4,5,6,7,8,9,10], "labels": false, "title": null, "tickSize": {"condition": {"test": "abs(log(datum.value)/LN10 - round(log(datum.value)/LN10)) < 0.01", "value": -5}, "value": -3}}},
             "detail": {"field": "c"}, "order": {"field": "i"},
             "color": {"field": "cl", "type": "nominal", "scale": {"domain": ["68.27","90.00","95.45","99.00","99.73"], "range": ["#e0393e","#3a46c2","#2e7b34","#8a1f1f","#1d1f70"]}, "legend": null},
             "strokeDash": {"field": "cl", "type": "nominal", "scale": {"domain": ["68.27","90.00","95.45","99.00","99.73"], "range": [[5,3],[2,2],[6,2,1.5,2],[9,3],[7,2,2,2]]}, "legend": null}}},
          {"data": {"name": "bMM"}, "mark": {"type": "line", "color": "#1d2a8a", "strokeWidth": 2.2, "strokeDash": [10, 4, 2, 4], "clip": true, "interpolate": "catmull-rom"},
           "encoding": {"x": {"field": "s", "type": "quantitative", "axis": null}, "y": {"field": "m", "type": "quantitative", "axis": null}, "detail": {"field": "c"}, "order": {"field": "i"}}},
          {"data": {"name": "bfMM"}, "mark": {"type": "point", "shape": "M-1,0L1,0M0,-1L0,1", "size": 130, "filled": false, "stroke": "#000", "strokeWidth": 2, "opacity": 1},
           "encoding": {"x": {"field": "s", "type": "quantitative", "axis": null}, "y": {"field": "m", "type": "quantitative", "axis": {"orient": "right", "values": [0.1,0.2,0.3,0.4,0.5,0.6,0.7,0.8,0.9,1,2,3,4,5,6,7,8,9,10], "labels": false, "title": null, "tickSize": {"condition": {"test": "abs(log(datum.value)/LN10 - round(log(datum.value)/LN10)) < 0.01", "value": -5}, "value": -3}}}}}
        ]
      }
    ]
  },
  {"width": 700, "height": 117.75, "data": {"values": [{"t": "(b)"}]}, "view": {"stroke": null},
   "mark": {"type": "text", "fontSize": 28, "align": "center", "baseline": "middle"},
   "encoding": {"text": {"field": "t"}, "x": {"datum": 0.4942, "scale": {"domain": [0, 1], "range": [-253, 700]}, "axis": null}, "y": {"datum": 0.6985, "scale": {"domain": [0, 1]}, "axis": null}}},
  {
    "width": 700, "height": 201, "data": {"name": "caption"}, "view": {"stroke": null},
    "encoding": {"y": {"field": "n", "type": "ordinal", "axis": null}, "text": {"field": "t"}},
    "layer": [
      {"transform": [{"filter": "datum.p == 'l' && (datum.n == 1 || datum.n == 2 || datum.n == 4)"}], "mark": {"type": "text", "fontSize": 29.5, "align": "left", "baseline": "middle"},
       "encoding": {"x": {"datum": 0, "scale": {"domain": [0, 1], "range": [-253, 700]}, "axis": null}}},
      {"transform": [{"filter": "datum.p == 'l' && datum.n == 3"}], "mark": {"type": "text", "fontSize": 29, "align": "left", "baseline": "middle"},
       "encoding": {"x": {"datum": 0, "scale": {"domain": [0, 1], "range": [-253, 700]}, "axis": null}}},
      {"transform": [{"filter": "datum.p == 'l' && datum.n >= 5"}], "mark": {"type": "text", "fontSize": 28.5, "align": "left", "baseline": "middle"},
       "encoding": {"x": {"datum": 0, "scale": {"domain": [0, 1], "range": [-253, 700]}, "axis": null}}},
      {"transform": [{"filter": "datum.p == 'm' && datum.n == 1"}], "mark": {"type": "text", "fontSize": 29.5, "align": "center", "baseline": "middle"},
       "encoding": {"x": {"datum": 0.4942, "scale": {"domain": [0, 1], "range": [-253, 700]}, "axis": null}}},
      {"transform": [{"filter": "datum.p == 'm' && datum.n == 2"}], "mark": {"type": "text", "fontSize": 29.5, "align": "center", "baseline": "middle"},
       "encoding": {"x": {"datum": 0.5205, "scale": {"domain": [0, 1], "range": [-253, 700]}, "axis": null}}},
      {"transform": [{"filter": "datum.p == 'm' && datum.n == 4"}], "mark": {"type": "text", "fontSize": 29.5, "align": "center", "baseline": "middle"},
       "encoding": {"x": {"datum": 0.531, "scale": {"domain": [0, 1], "range": [-253, 700]}, "axis": null}}},
      {"transform": [{"filter": "datum.p == 'r' && datum.n != 3"}], "mark": {"type": "text", "fontSize": 29.5, "align": "right", "baseline": "middle"},
       "encoding": {"x": {"datum": 1, "scale": {"domain": [0, 1], "range": [-253, 700]}, "axis": null}}},
      {"transform": [{"filter": "datum.p == 'r' && datum.n == 3"}], "mark": {"type": "text", "fontSize": 29, "align": "right", "baseline": "middle"},
       "encoding": {"x": {"datum": 1, "scale": {"domain": [0, 1], "range": [-253, 700]}, "axis": null}}}
    ]
  },
  {"width": 700, "height": 54, "data": {"values": [{"t": "11"}]}, "view": {"stroke": null},
   "mark": {"type": "text", "fontSize": 27, "align": "center", "baseline": "middle"},
   "encoding": {"text": {"field": "t"}, "x": {"datum": 0.4995, "scale": {"domain": [0, 1], "range": [-253, 700]}, "axis": null}, "y": {"datum": 0.264, "scale": {"domain": [0, 1]}, "axis": null}}}
]
}
